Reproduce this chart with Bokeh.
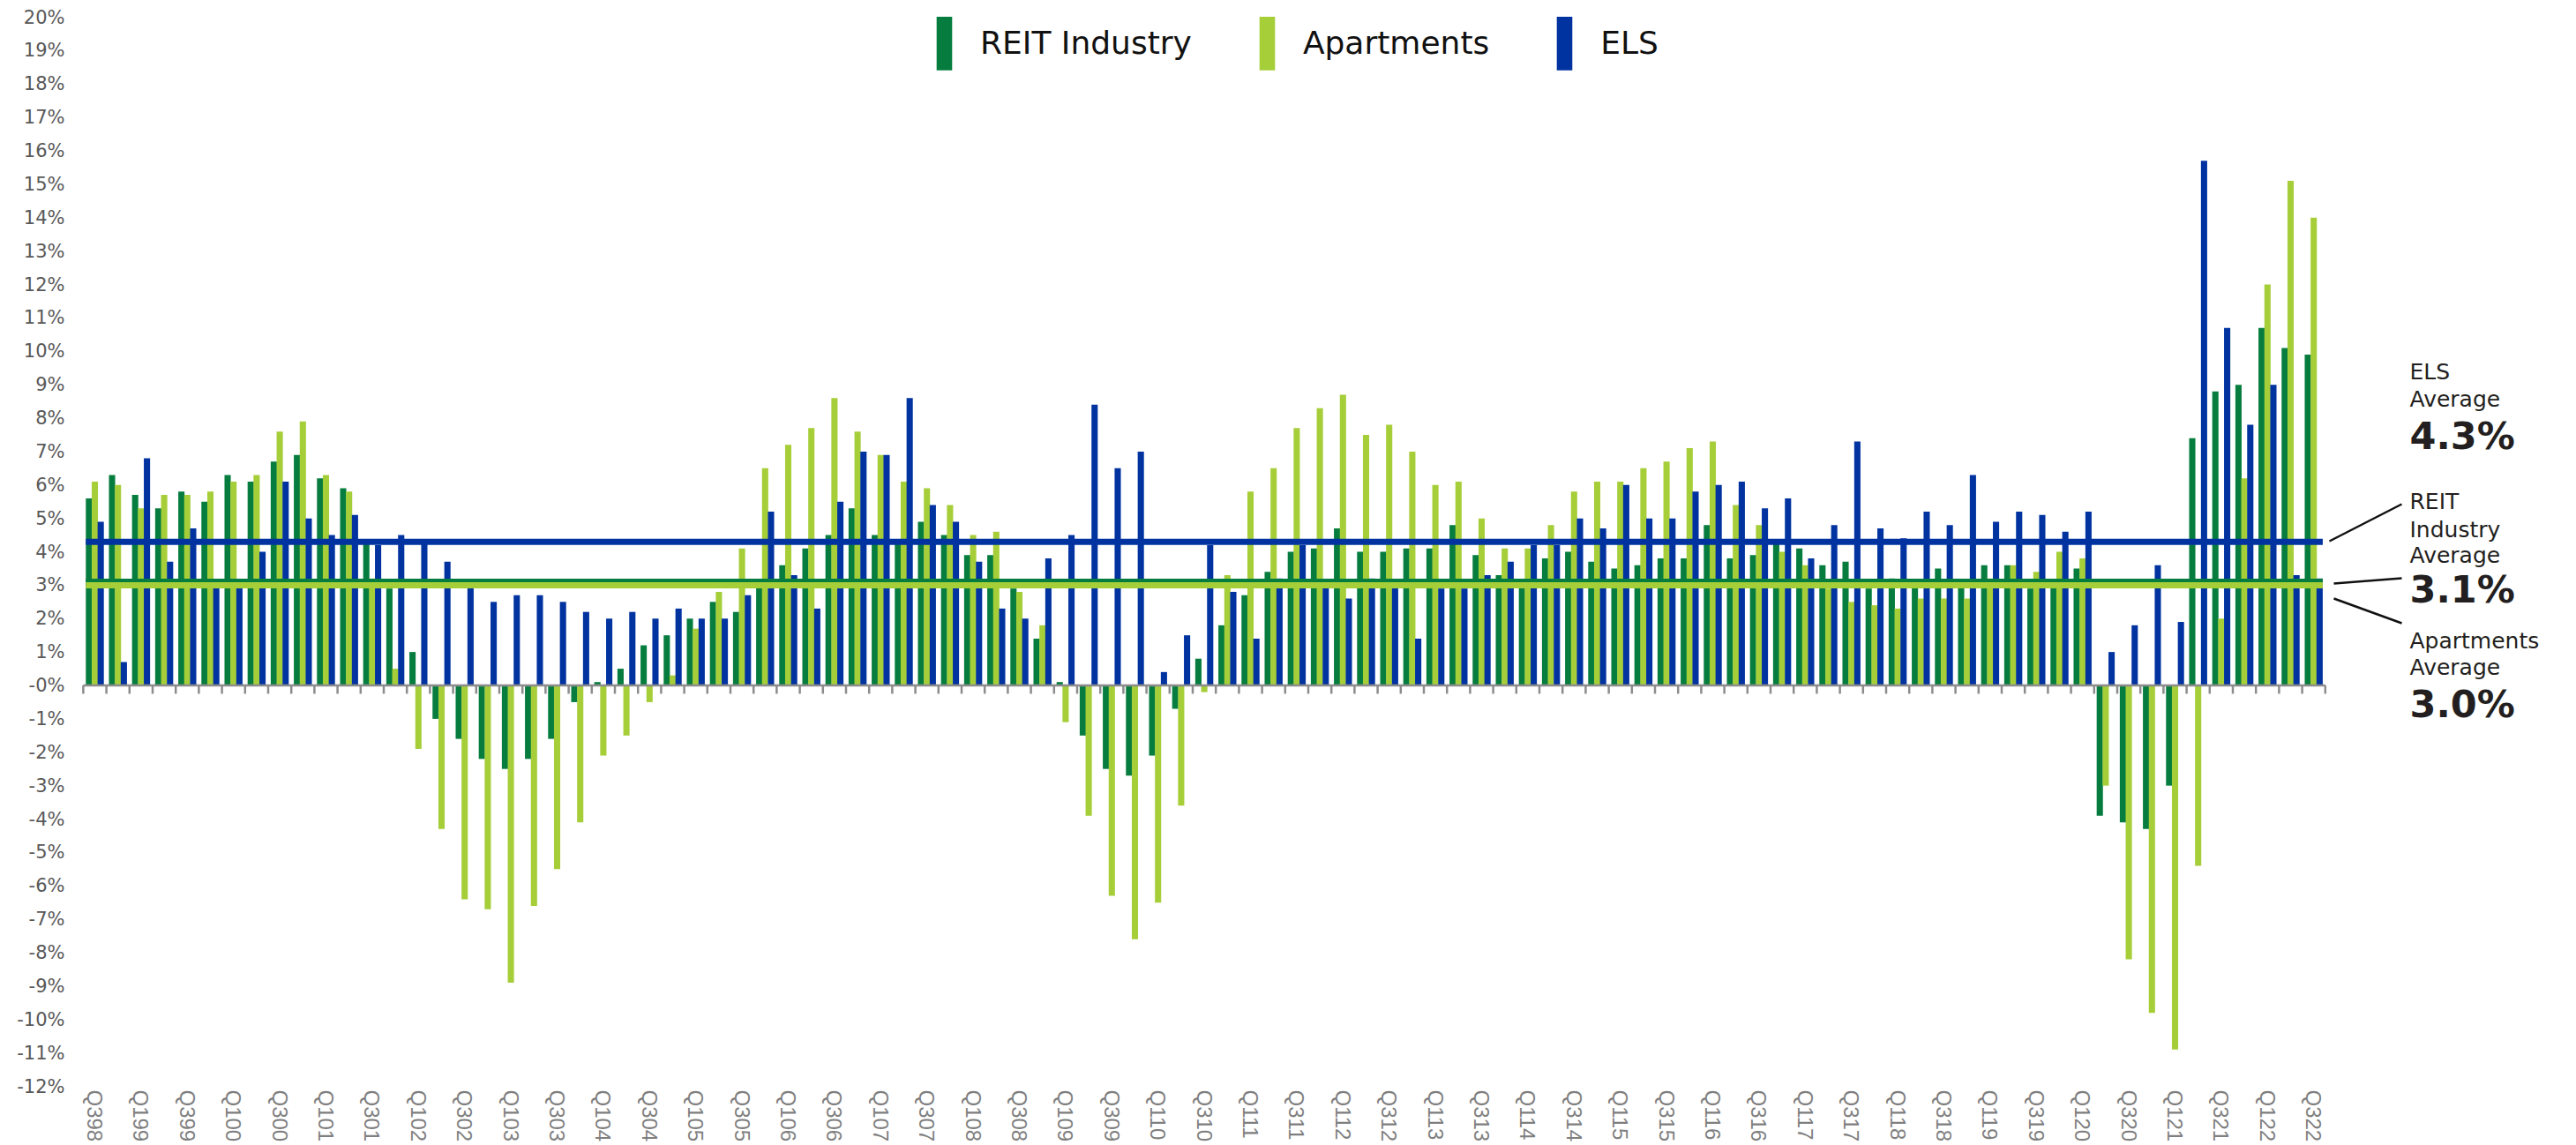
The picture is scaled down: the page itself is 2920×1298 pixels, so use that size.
import numpy as np
from bokeh.plotting import figure
from bokeh.models import ColumnDataSource, Range1d, FixedTicker, Legend, LegendItem, Label
from bokeh.transform import dodge
from bokeh.embed import file_html
from bokeh.resources import INLINE

# ---------------- data ----------------
quarters = [f"Q{q}{y % 100:02d}" for y in range(1998, 2023) for q in range(1, 5)][2:99]

reit = [5.6, 6.3, 5.7, 5.3, 5.8, 5.5, 6.3, 6.1, 6.7, 6.9,
        6.2, 5.9, 4.3, 2.9, 1.0, -1.0, -1.6, -2.2, -2.5, -2.2,
        -1.6, -0.5, 0.1, 0.5, 1.2, 1.5, 2.0, 2.5, 2.2, 3.0,
        3.6, 4.1, 4.5, 5.3, 4.5, 4.3, 4.9, 4.5, 3.9, 3.9,
        2.9, 1.4, 0.1, -1.5, -2.5, -2.7, -2.1, -0.7, 0.8, 1.8,
        2.7, 3.4, 4.0, 4.1, 4.7, 4.0, 4.0, 4.1, 4.1, 4.8,
        3.9, 3.3, 3.0, 3.8, 4.0, 3.7, 3.5, 3.6, 3.8, 3.8,
        4.8, 3.8, 3.9, 4.3, 4.1, 3.6, 3.7, 2.9, 3.2, 3.0,
        3.5, 3.1, 3.6, 3.6, 2.9, 3.0, 3.5, -3.9, -4.1, -4.3,
        -3.0, 7.4, 8.8, 9.0, 10.7, 10.1, 9.9]

apartments = [6.1, 6.0, 5.3, 5.7, 5.7, 5.8, 6.1, 6.3, 7.6, 7.9,
              6.3, 5.8, 3.2, 0.5, -1.9, -4.3, -6.4, -6.7, -8.9, -6.6,
              -5.5, -4.1, -2.1, -1.5, -0.5, 0.3, 1.7, 2.8, 4.1, 6.5,
              7.2, 7.7, 8.6, 7.6, 6.9, 6.1, 5.9, 5.4, 4.5, 4.6,
              2.8, 1.8, -1.1, -3.9, -6.3, -7.6, -6.5, -3.6, -0.2, 3.3,
              5.8, 6.5, 7.7, 8.3, 8.7, 7.5, 7.8, 7.0, 6.0, 6.1,
              5.0, 4.1, 4.1, 4.8, 5.8, 6.1, 6.1, 6.5, 6.7, 7.1,
              7.3, 5.4, 4.8, 4.0, 3.6, 2.9, 2.5, 2.4, 2.3, 2.6,
              2.6, 2.6, 3.2, 3.6, 3.4, 4.0, 3.8, -3.0, -8.2, -9.8,
              -10.9, -5.4, 2.0, 6.2, 12.0, 15.1, 14.0]

els = [4.9, 0.7, 6.8, 3.7, 4.7, 3.0, 3.1, 4.0, 6.1, 5.0,
       4.5, 5.1, 4.2, 4.5, 4.3, 3.7, 3.0, 2.5, 2.7, 2.7,
       2.5, 2.2, 2.0, 2.2, 2.0, 2.3, 2.0, 2.0, 2.7, 5.2,
       3.3, 2.3, 5.5, 7.0, 6.9, 8.6, 5.4, 4.9, 3.7, 2.3,
       2.0, 3.8, 4.5, 8.4, 6.5, 7.0, 0.4, 1.5, 4.2, 2.8,
       1.4, 3.2, 4.2, 3.1, 2.6, 3.2, 3.0, 1.4, 2.9, 2.9,
       3.3, 3.7, 4.2, 4.2, 5.0, 4.7, 6.0, 5.0, 5.0, 5.8,
       6.0, 6.1, 5.3, 5.6, 3.8, 4.8, 7.3, 4.7, 4.4, 5.2,
       4.8, 6.3, 4.9, 5.2, 5.1, 4.6, 5.2, 1.0, 1.8, 3.6,
       1.9, 15.7, 10.7, 7.8, 9.0, 3.3, 3.2]

series_names = ["REIT Industry", "Apartments", "ELS"]
avg_values = [3.1, 3.0, 4.3]          # REIT Industry, Apartments, ELS
avg_texts = ["3.1%", "3.0%", "4.3%"]
y_ticks = list(range(-12, 21))

# ---------------- style / layout ----------------
C_REIT, C_APT, C_ELS = "#067d3e", "#a6ce39", "#0033a0"
W, H = 2912, 1298
BL, BR, BT, BB = 91, 8, 19, 67
PX = 26.2           # pixels per quarter
X0_PAGE = 107       # page x of first group centre
frame_w = W - BL - BR
frame_h = H - BT - BB
x_start = -(X0_PAGE - BL) / PX
x_end = x_start + frame_w / PX
ppu = frame_h / 32.0


def fx(px):
    return x_start + (px - BL) / PX


def fy(py):
    return 20 - (py - BT) / ppu


n = len(quarters)
src = ColumnDataSource(dict(x=np.arange(n), reit=reit, apt=apartments, els=els))

p = figure(width=W, height=H, output_backend="svg", toolbar_location=None,
           x_range=Range1d(x_start, x_end), y_range=Range1d(-12, 20),
           min_border_left=BL, min_border_right=BR, min_border_top=BT, min_border_bottom=BB)
p.outline_line_color = None
p.xgrid.grid_line_color = None
p.ygrid.grid_line_color = None
p.background_fill_color = "white"

off, bw = 0.255, 0.27
r1 = p.vbar(x=dodge("x", -off), top="reit", bottom=0, width=bw, source=src,
            fill_color=C_REIT, line_color=None)
r2 = p.vbar(x=dodge("x", 0.0), top="apt", bottom=0, width=bw, source=src,
            fill_color=C_APT, line_color=None)
r3 = p.vbar(x=dodge("x", off), top="els", bottom=0, width=bw, source=src,
            fill_color=C_ELS, line_color=None)

# baseline and boundary ticks
bounds = np.arange(n + 1) - 0.5
p.segment(x0=[bounds[0]], x1=[bounds[-1]], y0=[0], y1=[0], line_color="#8c8c8c", line_width=2.5)
p.segment(x0=bounds, x1=bounds, y0=np.zeros(n + 1), y1=np.full(n + 1, -0.25),
          line_color="#8c8c8c", line_width=2.5)

# average lines
lx0, lx1 = -off - bw / 2, (n - 1) + off + bw / 2
for val, col in zip(avg_values, [C_REIT, C_APT, C_ELS]):
    p.segment(x0=[lx0], x1=[lx1], y0=[val], y1=[val], line_color=col, line_width=7)

# axes
p.yaxis.ticker = FixedTicker(ticks=y_ticks)
p.yaxis.major_label_overrides = {t: (f"{t}%" if t != 0 else "-0%") for t in y_ticks}
p.yaxis.axis_line_color = None
p.yaxis.major_tick_line_color = None
p.yaxis.minor_tick_line_color = None
p.yaxis.major_tick_out = 0
p.yaxis.major_tick_in = 0
p.yaxis.major_label_standoff = 18
p.yaxis.major_label_text_font = "DejaVu Sans"
p.yaxis.major_label_text_font_size = "21px"
p.yaxis.major_label_text_color = "#595959"

p.xaxis.ticker = FixedTicker(ticks=list(range(0, n, 2)))
p.xaxis.major_label_overrides = {i: quarters[i] for i in range(0, n, 2)}
p.xaxis.major_label_orientation = "vertical"
p.xaxis.axis_line_color = None
p.xaxis.major_tick_line_color = None
p.xaxis.minor_tick_line_color = None
p.xaxis.major_tick_out = 0
p.xaxis.major_tick_in = 0
p.xaxis.major_label_standoff = 4
p.xaxis.major_label_text_font = "Liberation Sans"
p.xaxis.major_label_text_font_size = "24px"
p.xaxis.major_label_text_color = "#7f7f7f"

# legend
legend = Legend(items=[LegendItem(label=series_names[0], renderers=[r1]),
                       LegendItem(label=series_names[1], renderers=[r2]),
                       LegendItem(label=series_names[2], renderers=[r3])],
                orientation="horizontal", location=(1059 - BL, frame_h - (87 - BT)),
                glyph_width=22, glyph_height=78, label_standoff=30, spacing=74,
                padding=0, margin=0, border_line_alpha=0, background_fill_alpha=0,
                label_text_font="DejaVu Sans", label_text_font_size="36px",
                label_text_color="#111111")
p.add_layout(legend)

# right-hand annotations
TX = 2731
small = [("ELS", 421), ("Average", 452),
         ("REIT", 568), ("Industry", 600), ("Average", 629),
         ("Apartments", 726), ("Average", 756)]
for txt, py in small:
    p.add_layout(Label(x=fx(TX), y=fy(py), text=txt, text_font="DejaVu Sans",
                       text_font_size="25px", text_color="#231f20",
                       text_baseline="middle", text_align="left"))
big = [(avg_texts[2], 493), (avg_texts[0], 667), (avg_texts[1], 797)]
for txt, py in big:
    p.add_layout(Label(x=fx(TX), y=fy(py), text=txt, text_font="DejaVu Sans",
                       text_font_style="bold", text_font_size="43px", text_color="#231f20",
                       text_baseline="middle", text_align="left"))

# leader lines
leaders = [((2640, 613), (2722, 571)),
           ((2645, 661), (2722, 655)),
           ((2645, 678), (2722, 706))]
p.segment(x0=[fx(a[0]) for a, b in leaders], y0=[fy(a[1]) for a, b in leaders],
          x1=[fx(b[0]) for a, b in leaders], y1=[fy(b[1]) for a, b in leaders],
          line_color="#111111", line_width=2.5)

open("out.html", "w").write(file_html(p, INLINE))
